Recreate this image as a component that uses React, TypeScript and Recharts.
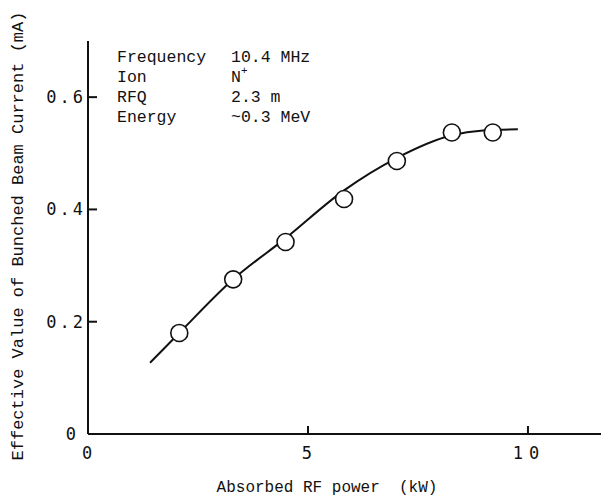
import React from 'react';
import { ComposedChart, Line, Scatter, XAxis, YAxis, Customized } from 'recharts';

// Measured points (absorbed RF power kW, beam current mA)
const powerKW = [2.075, 3.3, 4.49, 5.82, 7.02, 8.27, 9.2];
const currentMA = [0.18, 0.2755, 0.342, 0.4185, 0.4862, 0.537, 0.537];

// Fitted curve drawn through the points
const curveKW = [1.41, 2.075, 3.3, 4.48, 5.82, 7.016, 8.27, 8.98, 9.77];
const curveMA = [0.127, 0.18, 0.2755, 0.348, 0.434, 0.4915, 0.532, 0.5405, 0.5427];

const xTicks = [0, 5, 10];
const yTicks = [0, 0.2, 0.4, 0.6];

const infoLabels = ['Frequency', 'Ion', 'RFQ', 'Energy'];
const infoValues = ['10.4 MHz', 'N', '2.3 m', '~0.3 MeV'];

const points = powerKW.map((x, i) => ({ x, y: currentMA[i] }));
const curve = curveKW.map((x, i) => ({ x, y: curveMA[i] }));

const INK = '#111';
const MONO = '"Liberation Mono", "DejaVu Sans Mono", monospace';
const TICKF = '"DejaVu Sans Mono", "Liberation Mono", monospace';

const fmtY = (v: number) => (v === 0 ? '0' : v.toFixed(1));

const YTick = (props: any) => {
  const { x, y, payload } = props;
  const v = payload.value as number;
  return (
    <g>
      <line x1={x} y1={y} x2={x + 9} y2={y} stroke={INK} strokeWidth={2} />
      <text
        x={v === 0 ? x - 12 : x - 2}
        y={y}
        textAnchor="end"
        dominantBaseline="central"
        fontFamily={TICKF}
        fontSize={17}
        letterSpacing={v === 0 ? 0 : 3}
        fill={INK}
      >
        {fmtY(v)}
      </text>
    </g>
  );
};

const XTick = (props: any) => {
  const { x, y, payload } = props;
  const v = payload.value as number;
  return (
    <g>
      {v !== 0 && <line x1={x} y1={y} x2={x} y2={y - 8} stroke={INK} strokeWidth={2} />}
      <text
        x={v === 10 ? x + 1 : x - 1}
        y={y + 19}
        textAnchor="middle"
        dominantBaseline="central"
        fontFamily={TICKF}
        fontSize={17}
        letterSpacing={v === 10 ? 6 : 0}
        fill={INK}
      >
        {String(v)}
      </text>
    </g>
  );
};

const Circle = (props: any) => {
  const { cx, cy } = props;
  return <circle cx={cx} cy={cy} r={8.5} fill="#fff" stroke={INK} strokeWidth={1.6} />;
};

const Annotations = () => (
  <g fill={INK} fontFamily={MONO}>
    <text
      x={18}
      y={236}
      transform="rotate(-90 18 236)"
      textAnchor="middle"
      dominantBaseline="central"
      fontSize={17}
    >
      Effective Value of Bunched Beam Current (mA)
    </text>
    <text
      x={327}
      y={488}
      textAnchor="middle"
      dominantBaseline="central"
      fontSize={16}
      style={{ whiteSpace: 'pre' }}
    >
      {'Absorbed RF power  (kW)'}
    </text>
    {infoLabels.map((lab, i) => (
      <text key={lab} x={117} y={57 + i * 20} dominantBaseline="central" fontSize={16.5}>
        {lab}
      </text>
    ))}
    {infoValues.map((val, i) => (
      <text key={i} x={231} y={57 + i * 20} dominantBaseline="central" fontSize={16.5}>
        {val}
        {i === 1 && (
          <tspan dy={-6} fontSize={11}>
            +
          </tspan>
        )}
      </text>
    ))}
  </g>
);

export default function App() {
  return (
    <div style={{ position: 'absolute', left: 0, top: 0, width: 601, height: 496, background: '#fff' }}>
      <ComposedChart width={601} height={496} margin={{ top: 41, right: 0, left: 28, bottom: 32 }}>
        <XAxis
          type="number"
          dataKey="x"
          domain={[0, 11.66]}
          ticks={xTicks}
          allowDataOverflow
          axisLine={{ stroke: INK, strokeWidth: 2 }}
          tickLine={false}
          tickSize={0}
          tickMargin={0}
          tick={<XTick />}
          height={30}
        />
        <YAxis
          type="number"
          dataKey="y"
          domain={[0, 0.7]}
          ticks={yTicks}
          allowDataOverflow
          axisLine={{ stroke: INK, strokeWidth: 2 }}
          tickLine={false}
          tickSize={0}
          tickMargin={0}
          tick={<YTick />}
          width={60}
        />
        <Line
          data={curve}
          dataKey="y"
          type="monotone"
          dot={false}
          activeDot={false}
          stroke={INK}
          strokeWidth={2}
          isAnimationActive={false}
        />
        <Scatter data={points} dataKey="y" shape={<Circle />} isAnimationActive={false} />
        <Customized component={Annotations} />
      </ComposedChart>
    </div>
  );
}
